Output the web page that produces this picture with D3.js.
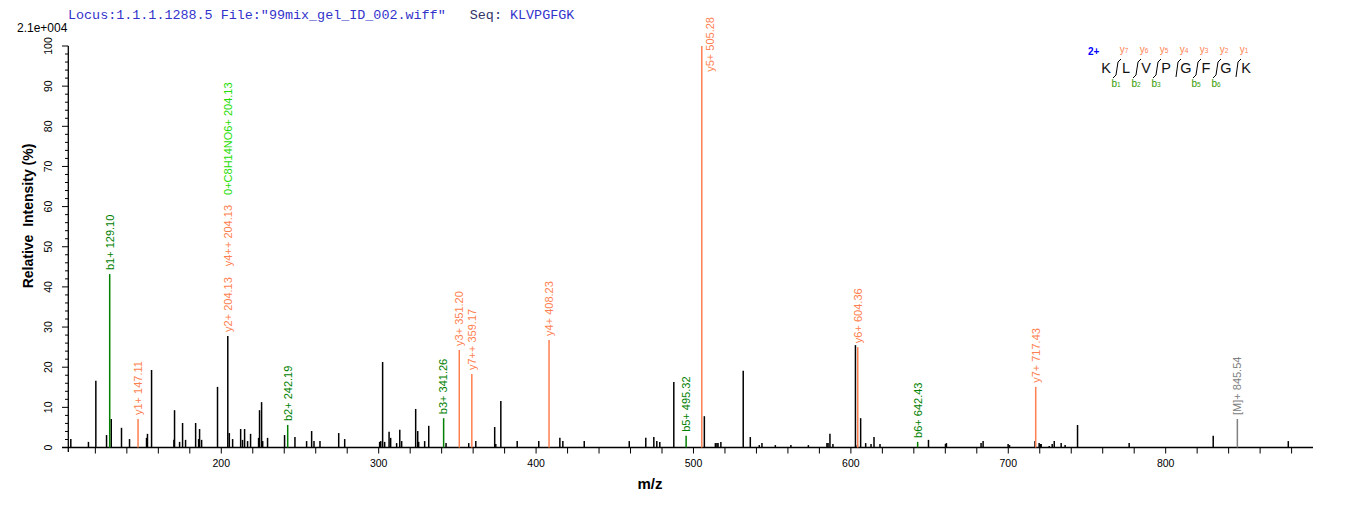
<!DOCTYPE html>
<html><head><meta charset="utf-8">
<script src="https://cdn.jsdelivr.net/npm/d3@7"></script>
<style>
html,body{margin:0;padding:0;background:#fff;}
svg{display:block;font-family:"Liberation Sans",Arial,sans-serif;}
</style></head>
<body><svg id="c" width="1362" height="507"></svg>
<script>
// ---- data ----
const peakMz = [104.4,115.6,120.3,127.1,130.1,136.6,141.7,152.5,153.1,155.7,169.9,170.3,173.5,175.4,177.3,183.7,185.6,186.2,187.5,197.6,205.1,207.2,212.3,213.5,214.8,216.7,218.6,223.7,224.3,225.6,226.3,229.4,240.2,246.8,254.2,257.4,258.9,262.7,274.6,278.4,300.6,301.3,302.5,303.8,306.6,307.6,311.4,313.4,314.6,323.5,324.8,325.4,329.2,331.8,342.8,357.2,361.7,373.7,374.4,377.6,388.0,401.7,415.1,417.0,430.6,459.2,469.7,474.8,476.7,478.6,487.5,506.9,513.9,514.9,515.6,517.4,531.6,536.1,541.8,543.5,552.0,561.9,573.0,584.8,585.5,586.7,588.6,602.9,604.1,606.2,609.4,612.8,614.7,618.5,649.3,660.1,660.7,682.7,684.0,699.9,700.8,717.0,719.6,720.3,720.9,726.0,727.9,729.2,733.6,736.1,744.0,776.8,830.2,877.9];
const peakInt = [2.1,1.4,16.6,3.1,7.1,4.9,2.1,2.4,3.4,19.3,1.9,9.3,1.4,6.1,1.9,6.1,2.1,4.6,1.9,15.1,3.6,2.1,4.6,1.9,4.6,1.6,3.4,2.4,9.3,11.3,1.6,2.4,3.1,2.6,1.6,4.1,1.6,1.6,3.6,2.1,1.4,1.6,21.3,1.4,3.9,2.4,1.1,4.4,1.6,9.6,4.1,1.4,1.6,5.4,1.1,1.1,1.6,5.1,0.9,11.6,1.6,1.6,2.4,1.6,1.6,1.6,2.4,2.6,1.6,1.4,16.3,7.8,1.1,1.1,1.1,1.4,19.1,2.6,0.6,1.1,0.6,0.6,0.6,1.1,1.1,3.4,0.9,25.5,0.6,7.3,1.1,0.9,2.6,0.9,1.9,0.9,1.1,1.1,1.6,0.9,0.6,1.6,1.1,0.9,0.9,0.4,0.9,1.6,1.1,0.6,5.6,1.1,2.9,1.6];

const ionMz   = [129.10,147.11,204.13,242.19,341.26,351.20,359.17,408.23,495.32,505.28,604.36,642.43,717.43,845.54];
const ionInt  = [43.2,7.1,27.8,5.6,7.3,24.3,18.3,26.8,2.9,100,25.0,1.4,15.1,7.1];
const ionText = ["b1+ 129.10","y1+ 147.11","y2+ 204.13","b2+ 242.19","b3+ 341.26","y3+ 351.20","y7++ 359.17","y4+ 408.23","b5+ 495.32","y5+ 505.28","y6+ 604.36","b6+ 642.43","y7+ 717.43","[M]+ 845.54"];
const ionKind = ["b","y","n","b","b","y","y","y","b","y","y","b","y","m"];
const ionLabelKind = ["b","y","y","b","b","y","y","y","b","y","y","b","y","m"];
const stackAt = 204.13;
const stackText = ["y4++ 204.13","0+C8H14NO6+ 204.13"];
const stackKind = ["y","o"];

const xTicks = [100,200,300,400,500,600,700,800];
const yTicks = [0,10,20,30,40,50,60,70,80,90,100];

const seq = ["K","L","V","P","G","F","G","K"];
const bCuts = [1,2,3,5,6];

const colors = {b:"#008000", y:"#FF7F50", m:"#808080", o:"#22DD00", n:"#000000"};

// ---- drawing ----
const svg = d3.select("#c");
const x = d3.scaleLinear().domain([102.8, 893.6]).range([68.3, 1313]);
const y = d3.scaleLinear().domain([0, 100]).range([447.5, 46]);

// header
svg.append("text").attr("x",68).attr("y",19)
  .attr("font-family","'Liberation Mono','Courier New',monospace").attr("font-size","13.4px")
  .style("white-space","pre")
  .call(t=>{
    t.append("tspan").attr("fill","#3333CC").text('Locus:1.1.1.1288.5 File:"99mix_gel_ID_002.wiff"   ');
    t.append("tspan").attr("fill","#333366").text('Seq: ');
    t.append("tspan").attr("fill","#3333CC").text('KLVPGFGK');
  });
svg.append("text").attr("x",17).attr("y",32).attr("font-size","12px").attr("fill","#000").text("2.1e+004");

// x axis
const xa = svg.append("g");
xa.append("line").attr("x1",62).attr("x2",1313).attr("y1",447.5).attr("y2",447.5).attr("stroke","#000").attr("stroke-width",1.3);
const xMinor = d3.range(120, 894, 20);
xa.selectAll("line.t").data(xMinor).join("line").attr("class","t")
  .attr("x1",d=>x(d)).attr("x2",d=>x(d)).attr("y1",447.5).attr("y2",453.5).attr("stroke","#000");
xa.selectAll("text").data(xTicks.filter(d=>x(d)>70)).join("text")
  .attr("x",d=>x(d)).attr("y",467).attr("text-anchor","middle").attr("font-size","10.5px").text(d=>d);
svg.append("text").attr("x",650).attr("y",489).attr("text-anchor","middle")
  .attr("font-size","15px").attr("font-weight","bold").text("m/z");

// y axis
const ya = svg.append("g");
ya.append("line").attr("x1",68.3).attr("x2",68.3).attr("y1",46).attr("y2",452).attr("stroke","#000").attr("stroke-width",1.3);
const yMinor = d3.range(0, 101, 2);
ya.selectAll("line.t").data(yMinor).join("line").attr("class","t")
  .attr("x1",d=> d%10===0 ? 62 : 65).attr("x2",68.3).attr("y1",d=>y(d)).attr("y2",d=>y(d)).attr("stroke","#000");
ya.selectAll("text").data(yTicks).join("text")
  .attr("transform",d=>`translate(52,${y(d)}) rotate(-90)`).attr("text-anchor","middle")
  .attr("font-size","10.5px").text(d=>d);
svg.append("text").attr("transform","translate(33,216) rotate(-90)").attr("text-anchor","middle")
  .attr("font-size","14px").attr("font-weight","bold").style("white-space","pre").text("Relative  Intensity (%)");

// plain peaks
svg.append("g").selectAll("line").data(peakMz.map((m,i)=>[m,peakInt[i]])).join("line")
  .attr("x1",d=>x(d[0])).attr("x2",d=>x(d[0])).attr("y1",y(0)).attr("y2",d=>y(d[1]))
  .attr("stroke","#000").attr("stroke-width",1.5);

// annotated peaks
const ions = ionMz.map((m,i)=>({m, v:ionInt[i], t:ionText[i], k:ionKind[i], lk:ionLabelKind[i]}));
const ig = svg.append("g");
ig.selectAll("line").data(ions).join("line")
  .attr("x1",d=>x(d.m)).attr("x2",d=>x(d.m)).attr("y1",y(0)).attr("y2",d=>y(d.v))
  .attr("stroke",d=>colors[d.k]).attr("stroke-width",1.5);

ions.forEach(d=>{
  const px = x(d.m), top = y(d.v);
  if (d.v > 90) {
    ig.append("text").attr("transform",`translate(${px+8},17) rotate(-90)`).attr("text-anchor","end")
      .attr("dy","0.35em").attr("font-size","11px").attr("fill",colors[d.lk]).text(d.t);
    return;
  }
  const t = ig.append("text").attr("transform",`translate(${px},${top-4}) rotate(-90)`).attr("text-anchor","start")
    .attr("dy","0.35em").attr("font-size","11px").attr("fill",colors[d.lk]).text(d.t);
  if (d.m === stackAt) {
    let start = top - 4 - t.node().getComputedTextLength() - 11;
    stackText.forEach((s,j)=>{
      const tt = ig.append("text").attr("transform",`translate(${px},${start}) rotate(-90)`).attr("text-anchor","start")
        .attr("dy","0.35em").attr("font-size","11px").attr("fill",colors[stackKind[j]]).text(s);
      start -= tt.node().getComputedTextLength() + 10;
    });
  }
});

// sequence legend
const lg = svg.append("g");
lg.append("text").attr("x",1088).attr("y",55).attr("font-size","10px").attr("font-weight","bold").attr("fill","#0000FF").text("2+");
seq.forEach((s,i)=>{
  lg.append("text").attr("x",1106+20*i).attr("y",73).attr("text-anchor","middle").attr("font-size","14.5px").attr("fill","#111").text(s);
});
for (let c=1; c<seq.length; c++){
  const cx = 1117 + 20*(c-1);
  const hasB = bCuts.includes(c);
  lg.append("path").attr("d",`M${cx+4},59 L${cx+1},62 L${cx-1},${hasB?75:77} ${hasB?`L${cx-4},78`:""}`)
    .attr("fill","none").attr("stroke","#000").attr("stroke-width",1);
  const yl = lg.append("text").attr("x",cx+7).attr("y",53).attr("text-anchor","middle").attr("font-size","10px").attr("fill","#FF7F50");
  yl.append("tspan").text("y");
  yl.append("tspan").attr("font-size","6.5px").text(seq.length-c);
  if (hasB){
    const bl = lg.append("text").attr("x",cx-1).attr("y",87).attr("text-anchor","middle").attr("font-size","10px").attr("fill","#339900");
    bl.append("tspan").text("b");
    bl.append("tspan").attr("font-size","6.5px").text(c);
  }
}
</script></body></html>
